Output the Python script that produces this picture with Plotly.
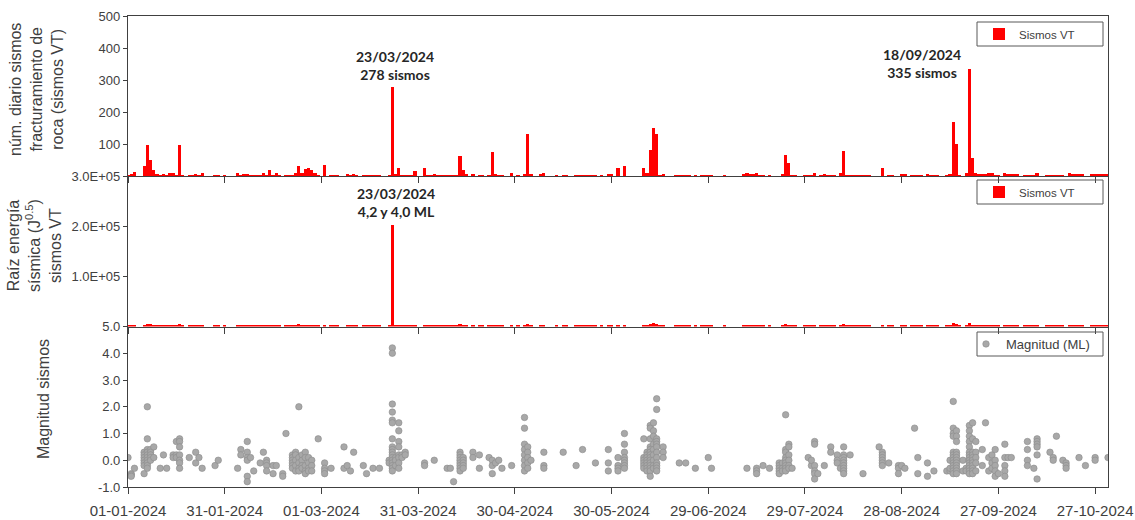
import pandas as pd
import plotly.graph_objects as go
from plotly.subplots import make_subplots

# ---------------- data ----------------
START = "2024-01-01"

# daily number of VT earthquakes (day 0 = 01-01-2024)
vt_counts = [
    3, 5, 14, 0, 0, 30, 97, 50, 20, 5,
    3, 4, 3, 10, 10, 3, 97, 3, 0, 3,
    3, 5, 3, 8, 0, 0, 0, 3, 3, 0,
    2, 0, 0, 0, 8, 3, 5, 4, 3, 3,
    3, 3, 8, 3, 20, 3, 8, 3, 0, 3,
    3, 3, 10, 30, 10, 22, 24, 18, 8, 3,
    0, 33, 0, 3, 3, 3, 0, 0, 5, 3,
    5, 3, 0, 3, 3, 3, 3, 3, 3, 0,
    0, 3, 278, 5, 25, 3, 3, 3, 3, 15,
    0, 0, 25, 3, 3, 5, 3, 3, 3, 3,
    3, 3, 3, 62, 20, 5, 0, 5, 0, 3,
    3, 0, 3, 75, 5, 3, 3, 0, 0, 8,
    0, 3, 0, 5, 130, 5, 0, 0, 5, 8,
    0, 0, 0, 3, 0, 3, 3, 0, 0, 3,
    3, 3, 3, 3, 3, 3, 0, 3, 0, 5,
    5, 0, 25, 0, 30, 0, 0, 0, 0, 0,
    25, 8, 80, 150, 130, 3, 5, 0, 0, 0,
    3, 3, 3, 3, 3, 0, 3, 0, 3, 3,
    3, 3, 0, 0, 0, 3, 0, 0, 0, 0,
    0, 5, 8, 5, 5, 8, 3, 3, 0, 3,
    0, 0, 0, 5, 67, 40, 3, 3, 0, 0,
    3, 3, 3, 10, 0, 3, 5, 3, 3, 3,
    0, 10, 78, 3, 3, 3, 3, 3, 3, 3,
    3, 0, 0, 0, 25, 0, 3, 3, 0, 0,
    5, 5, 0, 3, 3, 3, 3, 0, 5, 3,
    3, 3, 0, 0, 3, 5, 170, 100, 3, 0,
    8, 335, 55, 10, 5, 5, 5, 8, 10, 3,
    3, 0, 10, 5, 5, 5, 5, 0, 3, 3,
    3, 3, 10, 0, 0, 3, 3, 3, 3, 3,
    3, 0, 10, 5, 5, 5, 5, 0, 0, 5,
    5, 5, 5, 5, 5,
]

# daily square root of seismic energy (J^0.5)
vt_energy = [
    2500, 2500, 3000, 0, 0, 3000, 4500, 4000, 3000, 2500,
    2500, 2500, 2500, 2500, 2500, 2500, 4000, 2500, 0, 2500,
    2500, 2500, 2500, 2500, 0, 0, 0, 2500, 2500, 0,
    2500, 0, 0, 0, 2500, 2500, 2500, 2500, 2500, 2500,
    2500, 2500, 2500, 2500, 3000, 2500, 2500, 2500, 0, 2500,
    2500, 2500, 2500, 4000, 2500, 2500, 2500, 2500, 2500, 2500,
    0, 3000, 0, 2500, 2500, 2500, 0, 0, 2500, 2500,
    2500, 2500, 0, 2500, 2500, 2500, 2500, 2500, 2500, 0,
    0, 2500, 203000, 2500, 3000, 2500, 2500, 2500, 2500, 2500,
    0, 0, 2500, 2500, 2500, 2500, 2500, 2500, 2500, 2500,
    2500, 2500, 2500, 4000, 2500, 2500, 0, 2500, 0, 2500,
    2500, 0, 2500, 3000, 2500, 2500, 2500, 0, 0, 2500,
    0, 2500, 0, 2500, 4000, 2500, 0, 0, 2500, 2500,
    0, 0, 0, 2500, 0, 2500, 2500, 0, 0, 2500,
    2500, 2500, 2500, 2500, 2500, 2500, 0, 2500, 0, 2500,
    2500, 0, 3000, 0, 3000, 0, 0, 0, 0, 0,
    3000, 2500, 4000, 6000, 5000, 2500, 2500, 0, 0, 0,
    2500, 2500, 2500, 2500, 2500, 0, 2500, 0, 2500, 2500,
    2500, 2500, 0, 0, 0, 2500, 0, 0, 0, 0,
    0, 2500, 2500, 2500, 2500, 2500, 2500, 2500, 0, 2500,
    0, 0, 0, 2500, 4000, 3000, 2500, 2500, 0, 0,
    2500, 2500, 2500, 2500, 0, 2500, 2500, 2500, 2500, 2500,
    0, 2500, 4000, 2500, 2500, 2500, 2500, 2500, 2500, 2500,
    2500, 0, 0, 0, 2500, 0, 2500, 2500, 0, 0,
    2500, 2500, 0, 2500, 2500, 2500, 2500, 0, 2500, 2500,
    2500, 2500, 0, 0, 2500, 2500, 6000, 4000, 2500, 0,
    2500, 6000, 3000, 2500, 2500, 2500, 2500, 2500, 2500, 2500,
    2500, 0, 2500, 2500, 2500, 2500, 2500, 0, 2500, 2500,
    2500, 2500, 2500, 0, 0, 2500, 2500, 2500, 2500, 2500,
    2500, 0, 2500, 2500, 2500, 2500, 2500, 0, 0, 2500,
    2500, 2500, 2500, 2500, 2500,
]

# local magnitudes (ML): (day offset, magnitudes of that day)
mag_groups = [
    (0, [0.1]), (1, [-0.5, -0.55, -0.6]), (2, [-0.3]),
    (5, [-0.5, 0.3, 0.2, 0.1, 0.0, -0.1, -0.2]),
    (6, [2.0, 0.8, 0.4, 0.3, 0.2, 0.1, 0.0, -0.1, -0.2, -0.3]),
    (7, [0.4, 0.3, 0.2, 0.1, 0.0]), (8, [0.5, 0.1]),
    (10, [-0.3]), (11, [0.2]), (12, [-0.3]), (14, [0.2, 0.1]),
    (15, [0.7, 0.2, 0.1]), (16, [0.8, 0.7, 0.5, 0.2, 0.0, -0.1, -0.3]),
    (19, [0.1]), (21, [0.3, -0.1]), (22, [0.1]), (23, [-0.3]),
    (27, [-0.2]), (28, [0.0]),
    (34, [-0.3]), (35, [0.4, 0.2]), (37, [0.7, 0.3, 0.1, 0.0, -0.6, -0.8]),
    (38, [0.1]), (39, [-0.4]), (41, [-0.1]), (42, [0.3]),
    (43, [0.0, -0.1, -0.2, -0.4]), (45, [-0.2, -0.5]), (46, [-0.2]),
    (48, [-0.5, -0.6]), (49, [1.0]),
    (51, [0.2, 0.1, 0.0, -0.1, -0.2, -0.3]),
    (52, [0.3, 0.2, 0.0, -0.2, -0.4]),
    (53, [2.0, 0.1, -0.1, -0.3, -0.4]),
    (54, [0.2, 0.0, -0.2, -0.3]),
    (55, [0.3, 0.1, -0.2, -0.4, -0.5]),
    (56, [0.1, -0.1, -0.3, -0.4]),
    (57, [0.0, -0.2, -0.4]), (59, [0.8]),
    (61, [-0.1, -0.3, -0.4, -0.5]), (63, [-0.3]),
    (67, [0.5, -0.3]), (68, [-0.2]), (69, [-0.4]), (70, [0.3]),
    (73, [-0.2]), (74, [-0.5]), (76, [-0.3]), (78, [-0.3]),
    (81, [0.0, -0.1]),
    (82, [4.2, 4.0, 2.1, 1.8, 1.5, 1.4, 0.8, 0.5, 0.4, 0.3, 0.2, 0.1, 0.0,
          -0.1, -0.2, -0.3, -0.4]),
    (83, [0.1, 0.0, -0.2]),
    (84, [1.4, 1.1, 0.7, 0.5, 0.2, 0.1, -0.1, -0.3]),
    (85, [0.2, 0.1]), (86, [0.3, 0.2]),
    (92, [-0.1, -0.2]), (95, [0.0]), (99, [-0.3]), (100, [-0.3]), (101, [-0.8]),
    (103, [0.3, 0.2, 0.1, 0.0, -0.1, -0.2, -0.3, -0.4]),
    (104, [0.1, 0.0, -0.1, -0.2, -0.3]),
    (107, [0.3, 0.1]), (109, [0.2, -0.3]), (112, [0.1]),
    (113, [0.0, -0.2, -0.5]), (114, [-0.1]), (115, [0.0]), (116, [-0.3]),
    (119, [-0.2]),
    (123, [1.6, 1.2, 0.6, 0.4, 0.2, 0.0, -0.2, -0.4]),
    (124, [0.5, 0.3, 0.1, -0.1, -0.3]), (125, [0.0]),
    (129, [0.3, -0.2, -0.3]), (135, [0.3]), (139, [-0.2]), (141, [0.4]),
    (145, [-0.1]), (149, [0.4, -0.1, -0.4]),
    (152, [0.1, -0.2, -0.3, -0.4]),
    (154, [1.0, 0.6, 0.3, 0.1, 0.0, -0.1, -0.2, -0.3]),
    (160, [0.8, 0.1, 0.0, -0.1, -0.2, -0.3]),
    (161, [0.3, 0.2, 0.1, 0.0, -0.1, -0.2, -0.3, -0.4]),
    (162, [1.3, 1.2, 0.8, 0.5, 0.4, 0.3, 0.2, 0.1, 0.0, -0.1, -0.2, -0.3,
           -0.4, -0.6]),
    (163, [1.4, 1.1, 0.9, 0.6, 0.4, 0.2, 0.0, -0.2, -0.3]),
    (164, [2.3, 1.9, 0.8, 0.7, 0.6, 0.5, 0.3, 0.1, -0.1, -0.2, -0.3, -0.4]),
    (166, [0.5, 0.3, 0.1]),
    (171, [-0.1]), (173, [-0.1]), (176, [-0.3]), (180, [0.1]), (181, [-0.3]),
    (192, [-0.3]), (195, [-0.3, -0.4, -0.5]), (197, [-0.2]), (199, [-0.3]),
    (202, [-0.1, -0.2, -0.3, -0.4, -0.5]), (203, [-0.1, -0.3, -0.4]),
    (204, [1.7, 0.4, 0.3, 0.1, 0.0, -0.1, -0.2, -0.3, -0.4]),
    (205, [0.6, 0.5, 0.2, 0.0, -0.2, -0.3]), (206, [-0.3]),
    (211, [0.1]), (212, [-0.2, 0.0]),
    (213, [0.7, 0.6, -0.2, -0.4, -0.5, -0.7]), (214, [-0.5]),
    (216, [-0.2]), (218, [0.5, 0.3]), (220, [0.2, 0.0, -0.1]), (221, [-0.3]),
    (222, [0.5, 0.2, 0.1, 0.0, -0.1, -0.2, -0.3, -0.4, -0.5]),
    (224, [0.2]), (228, [-0.5]), (233, [0.5]),
    (234, [0.3, 0.2, 0.1, 0.0, -0.1, -0.2]), (236, [-0.1]),
    (239, [-0.2, -0.3, -0.5]), (240, [-0.2]), (241, [-0.3]),
    (244, [1.2]), (245, [0.1, -0.5]), (248, [-0.1, -0.6]), (250, [-0.4]),
    (254, [-0.4]), (255, [-0.4, -0.3, 0.0]),
    (256, [2.2, 1.2, 1.0, 0.9, 0.3, 0.2, 0.1, 0.0, -0.1, -0.2, -0.3, -0.4, -0.5]),
    (257, [1.1, 0.9, 0.7, 0.3, 0.2, 0.1, 0.0, -0.1, -0.2, -0.3, -0.4, -0.5]),
    (259, [0.0, -0.4]), (260, [-0.3, -0.4]),
    (261, [1.3, 1.1, 0.9, 0.7, 0.5, 0.3, 0.2, 0.1, 0.0, -0.1, -0.2, -0.3,
           -0.4, -0.5]),
    (262, [1.4, 0.8, 0.3, 0.2, 0.1, 0.0, -0.1, -0.2, -0.3, -0.4, -0.5]),
    (263, [0.7, 0.3, 0.1, -0.1, -0.4]),
    (265, [0.4, -0.2]), (266, [1.4]), (267, [0.1, -0.4]),
    (268, [0.2, -0.1, -0.3]), (269, [0.4, 0.0, -0.2, -0.4, -0.6]),
    (270, [-0.5]), (272, [0.6, 0.1, -0.2, -0.4, -0.6]), (273, [0.1]),
    (274, [0.1]), (279, [0.7, 0.4, 0.0, -0.2]), (281, [-0.3]),
    (282, [0.8, 0.7, 0.6, 0.5, 0.2, -0.7]),
    (286, [0.3]), (287, [0.1, 0.0]), (288, [0.9]), (290, [0.0]),
    (291, [-0.1, -0.2, -0.3]), (295, [0.1]), (297, [-0.2]),
    (300, [0.1, 0.0]), (304, [0.1]),
]

top_ticks = [100, 200, 300, 400, 500]
mid_ticks = [100000, 200000, 300000]
mid_ticktext = ["1.0E+05", "2.0E+05", "3.0E+05"]
bot_ticks = [-1, 0, 1, 2, 3, 4, 5]
bot_ticktext = ["-1.0", "0.0", "1.0", "2.0", "3.0", "4.0", "5.0"]

# ---------------- build ----------------
t0 = pd.Timestamp(START)
dates = pd.date_range(START, periods=len(vt_counts), freq="D")
mag_x, mag_y = [], []
for d, vals in mag_groups:
    for v in vals:
        mag_x.append(t0 + pd.Timedelta(days=d))
        mag_y.append(v)


def day(d):
    return (t0 + pd.Timedelta(days=d)).strftime("%Y-%m-%d %H:%M")


W, H = 1135, 520
ML, MR, MT, MB = 128, 27, 16, 33
PW, PH = W - ML - MR, H - MT - MB


def px(x):
    return (x - ML) / PW


def py(y):
    return (H - MB - y) / PH


AXF = "Liberation Sans, Arial, sans-serif"
TXT = "#404040"
LINE = "#404040"
RED = "#ff0000"

fig = make_subplots(rows=3, cols=1, shared_xaxes=True, vertical_spacing=0)

fig.add_trace(go.Bar(x=dates, y=vt_counts, name="Sismos VT", marker_color=RED,
                     marker_line_width=0, legend="legend"), row=1, col=1)
fig.add_trace(go.Bar(x=dates, y=vt_energy, name="Sismos VT", marker_color=RED,
                     marker_line_width=0, legend="legend2"), row=2, col=1)
fig.add_trace(go.Scatter(x=mag_x, y=mag_y, mode="markers", name="Magnitud (ML)",
                         marker=dict(size=6.5, color="#a8a8a8",
                                     line=dict(width=0.6, color="#8c8c8c")),
                         legend="legend3"), row=3, col=1)

y_top = [py(176), 1.0]
y_mid = [py(326.5), py(176)]
y_bot = [0.0, py(326.5)]

xcommon = dict(
    type="date", range=[day(0), day(304)], showgrid=False, zeroline=False,
    showline=True, linecolor=LINE, linewidth=1.2, automargin=False,
    ticks="outside", ticklen=6, tickwidth=1.3, tickcolor=LINE,
    tick0=START, dtick=30 * 86400000, tickformat="%d-%m-%Y",
    tickfont=dict(family=AXF, size=15, color=TXT),
)
ycommon = dict(
    showgrid=False, zeroline=False, showline=True, linecolor=LINE, linewidth=1.2,
    mirror=True, ticks="outside", ticklen=4, tickwidth=1.2, tickcolor=LINE,
    automargin=False, tickfont=dict(family=AXF, size=13, color=TXT),
)

fig.update_layout(
    xaxis=dict(**xcommon, mirror=True, showticklabels=False),
    xaxis2=dict(**xcommon, mirror=False, showticklabels=False),
    xaxis3=dict(**xcommon, mirror=False, showticklabels=True,
                ticklabelstandoff=4),
    yaxis=dict(**ycommon, domain=y_top, range=[0, 500], tickvals=top_ticks),
    yaxis2=dict(**ycommon, domain=y_mid, range=[0, 300000], tickvals=mid_ticks,
                ticktext=mid_ticktext),
    yaxis3=dict(**ycommon, domain=y_bot, range=[-1, 5], tickvals=bot_ticks,
                ticktext=bot_ticktext),
)

fig.update_layout(
    width=W, height=H, autosize=False,
    margin=dict(l=ML, r=MR, t=MT, b=MB, pad=0, autoexpand=False),
    paper_bgcolor="white", plot_bgcolor="white",
    bargap=0, showlegend=True,
    legend=dict(x=px(979), y=py(34), xanchor="left", yanchor="middle",
                bgcolor="rgba(0,0,0,0)", borderwidth=0, itemwidth=30,
                font=dict(family=AXF, size=11.5, color=TXT)),
    legend2=dict(x=px(979), y=py(192), xanchor="left", yanchor="middle",
                 bgcolor="rgba(0,0,0,0)", borderwidth=0, itemwidth=30,
                 font=dict(family=AXF, size=11.5, color=TXT)),
    legend3=dict(x=px(966), y=py(344), xanchor="left", yanchor="middle",
                 bgcolor="rgba(0,0,0,0)", borderwidth=0, itemwidth=30,
                 font=dict(family=AXF, size=13, color=TXT)),
)

# legend frames
for (top, bot) in [(22, 46), (180, 204), (332, 356)]:
    fig.add_shape(type="rect", xref="paper", yref="paper",
                  x0=px(977), x1=px(1103), y0=py(bot), y1=py(top),
                  line=dict(color="#595959", width=1), fillcolor="rgba(0,0,0,0)")

ANF = "Lato, Carlito, Calibri, sans-serif"
fig.add_annotation(x=day(82.8), y=344, xref="x", yref="y",
                   text="<b>23/03/2024<br>278 sismos</b>", showarrow=False,
                   font=dict(family=ANF, size=14, color="#262626"),
                   xanchor="center", yanchor="middle")
fig.add_annotation(x=day(246.4), y=353, xref="x", yref="y",
                   text="<b>18/09/2024<br>335 sismos</b>", showarrow=False,
                   font=dict(family=ANF, size=14, color="#262626"),
                   xanchor="center", yanchor="middle")
fig.add_annotation(x=day(83.0), y=248000, xref="x2", yref="y2",
                   text="<b>23/03/2024<br>4,2 y 4,0 ML</b>", showarrow=False,
                   font=dict(family=ANF, size=14, color="#262626"),
                   xanchor="center", yanchor="middle")

# y axis titles
TF = dict(family=AXF, size=16, color=TXT)
fig.add_annotation(x=px(37), y=py(90), xref="paper", yref="paper",
                   text="núm. diario sismos<br>fracturamiento de<br>roca (sismos VT)",
                   textangle=-90, showarrow=False, font=TF,
                   xanchor="center", yanchor="middle")
fig.add_annotation(x=px(34), y=py(246), xref="paper", yref="paper",
                   text="Raíz energía<br>sísmica (J<sup>0.5</sup>)<br>sismos VT",
                   textangle=-90, showarrow=False, font=TF,
                   xanchor="center", yanchor="middle")
fig.add_annotation(x=px(43), y=py(399), xref="paper", yref="paper",
                   text="Magnitud sismos",
                   textangle=-90, showarrow=False, font=TF,
                   xanchor="center", yanchor="middle")

fig.write_html("out.html",
               config={"displayModeBar": False},
               post_script="document.body.style.margin='0px';"
                           "document.body.style.overflow='hidden';")
